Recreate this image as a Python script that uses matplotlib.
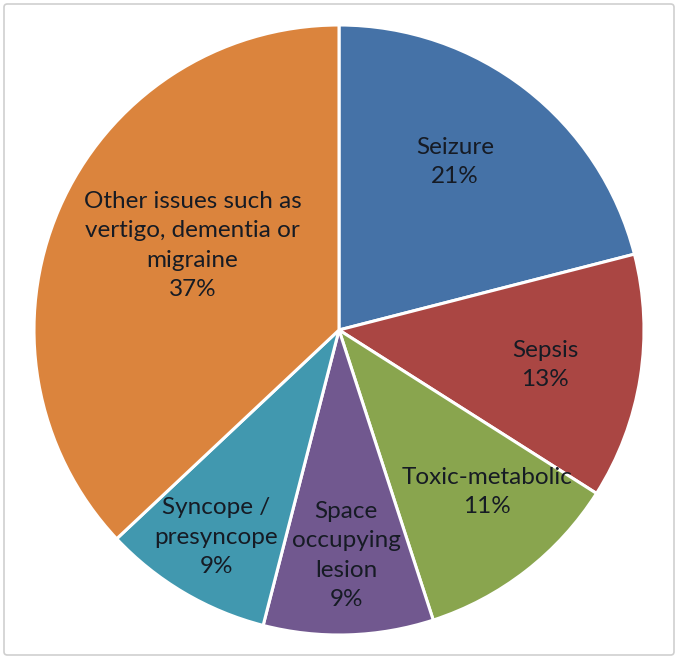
import matplotlib
matplotlib.use("Agg")
import matplotlib.pyplot as plt
from matplotlib.patches import FancyBboxPatch
import numpy as np

categories = ["Seizure", "Sepsis", "Toxic-metabolic", "Space\noccupying\nlesion",
              "Syncope /\npresyncope", "Other issues such as\nvertigo, dementia or\nmigraine"]
values = [21, 13, 11, 9, 9, 37]
colors = ["#4572A7", "#AA4643", "#89A54E", "#71588F", "#4198AF", "#DB843D"]
label_dist = [0.67, 0.685, 0.72, 0.74, 0.79, 0.555]
label_angle_shift = [3.2, -0.6, 4.6, 0.0, 0.0, -6.6]

fig = plt.figure(figsize=(6.79, 6.58), dpi=100)
ax = fig.add_axes([0, 0, 1, 1])
wedges, _ = ax.pie(values, colors=colors, startangle=90, counterclock=False,
                   radius=1, wedgeprops=dict(edgecolor="white", linewidth=2.2))
for w, cat, v, d, s in zip(wedges, categories, values, label_dist, label_angle_shift):
    ang = np.deg2rad((w.theta1 + w.theta2) / 2 + s)
    ax.text(d * np.cos(ang), d * np.sin(ang), f"{cat}\n{v}%", ha="center", va="center",
            fontsize=17.5, family=["Lato", "DejaVu Sans"], color="#161b24", linespacing=1.5)

ax.set_xlim(-339 / 305, (679 - 339) / 305)
ax.set_ylim(-(658 - 330) / 305, 330 / 305)
ax.set_aspect("auto")
ax.axis("off")

border = FancyBboxPatch((4 / 679, 3 / 658), 670 / 679, 651 / 658,
                        boxstyle="round,pad=0,rounding_size=0.005",
                        transform=fig.transFigure, fill=False, edgecolor="#cfcfcf", linewidth=1.2)
fig.patches.append(border)
fig.savefig("out.png", dpi=100)
